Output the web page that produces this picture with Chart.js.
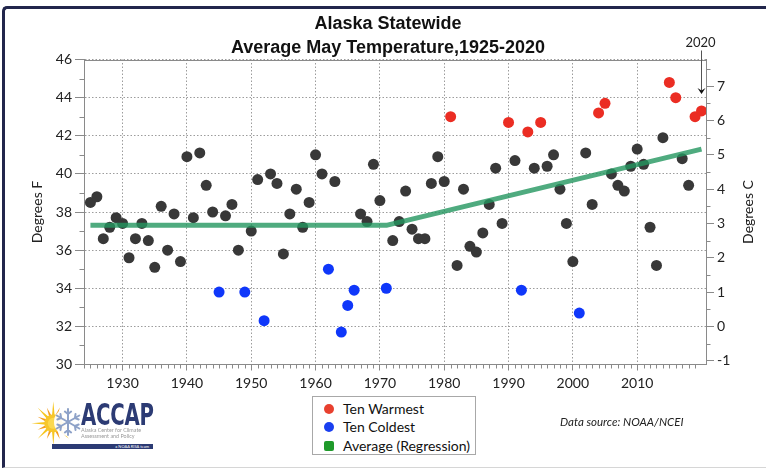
<!DOCTYPE html>
<html>
<head>
<meta charset="utf-8">
<title>Alaska Statewide Average May Temperature</title>
<script src="https://cdn.jsdelivr.net/npm/chart.js@4/dist/chart.umd.min.js"></script>
<style>
  html, body { margin: 0; padding: 0; background: #fff; }
  #wrap { position: relative; width: 766px; height: 470px; overflow: hidden; font-family: Lato, 'Open Sans', sans-serif; color: #111; }
  #frame { position: absolute; left: 2px; top: 6px; width: 900px; height: 462px; box-sizing: border-box;
           border-top: 3px solid #22264c; border-left: 3px solid #22264c; border-bottom: 1px solid #d6d6d6;
           border-top-left-radius: 5px; }
  #chart { position: absolute; left: 0; top: 0; }
  #title { position: absolute; left: 188px; top: 12px; width: 400px; text-align: center;
           font: bold 18px 'Liberation Sans', Arial, sans-serif; line-height: 23.5px; color: #111; }
  #degC { position: absolute; left: 740px; top: 205px; width: 14px; height: 14px; }
  #degC span { position: absolute; left: 50%; top: 50%; transform: translate(-50%, -50%) rotate(-90deg);
               font-size: 14px; white-space: nowrap; color: #1a1a1a; }
  #legend { position: absolute; left: 312px; top: 396px; width: 164px; height: 59px; box-sizing: border-box;
            border: 1px solid #a8a8a8; background: #fff; font-size: 14px; }
  #legend .row { position: absolute; left: 0; height: 18px; line-height: 18px; white-space: nowrap; }
  #legend .mark { position: absolute; left: 10.5px; top: 4px; width: 10px; height: 10px; border-radius: 50%; }
  #legend .mark.sq { border-radius: 2px; }
  #legend .txt { position: absolute; left: 30px; top: 0; }
  #source { position: absolute; left: 560px; top: 415px; font-size: 11.5px; font-style: italic; color: #222; white-space: nowrap; }
  #logo-art { position: absolute; left: 26px; top: 398px; }
  #logo-name { position: absolute; left: 81px; top: 397px; font: bold 30px 'Liberation Sans Narrow', 'DejaVu Sans Condensed', Arial, sans-serif;
               color: #2c3b74; transform: scaleX(0.73); transform-origin: left top; letter-spacing: -0.3px; }
  #logo-sub { position: absolute; left: 81px; top: 428px; font: 5.4px/5.6px Lato, sans-serif; color: #9a9a9a; white-space: nowrap; }
  #logo-bar { position: absolute; left: 52px; top: 444px; width: 101px; height: 5px; background: #2c3b74; }
  #logo-bar span { position: absolute; right: 4px; top: 0; font: 4px/5px Lato, sans-serif; color: #fff; white-space: nowrap; }
</style>
</head>
<body>
<div id="wrap">
  <div id="frame"></div>
  <canvas id="chart" width="766" height="470"></canvas>
  <div id="title">Alaska Statewide<br>Average May Temperature,1925-2020</div>
  <div id="degC"><span>Degrees C</span></div>

  <svg id="logo-art" width="58" height="52" viewBox="0 0 58 52">
    <g id="sun-rays"></g>
    <circle cx="27.3" cy="25.3" r="9" fill="#f7c62b"/>
    <circle cx="27.3" cy="25.3" r="5.5" fill="#fbd84e"/>
    <circle cx="42" cy="24" r="14" fill="#fff" opacity="0.92"/>
    <g id="flake" stroke="#8ea2c8" stroke-width="2" stroke-linecap="round" fill="none"></g>
  </svg>
  <div id="logo-name">ACCAP</div>
  <div id="logo-sub">Alaska Center for Climate<br>Assessment and Policy</div>
  <div id="logo-bar"><span>a NOAA RISA team</span></div>

  <div id="legend">
    <div class="row" style="top:3px"><span class="mark" style="background:#e8402f"></span><span class="txt">Ten Warmest</span></div>
    <div class="row" style="top:21px"><span class="mark" style="background:#1a3ff0"></span><span class="txt">Ten Coldest</span></div>
    <div class="row" style="top:39.5px"><span class="mark sq" style="background:#1f9a2a"></span><span class="txt">Average (Regression)</span></div>
  </div>
  <div id="source">Data source: NOAA/NCEI</div>
</div>

<script>
// May mean temperature, statewide, degrees F
const years = [
  1925, 1926, 1927, 1928, 1929, 1930, 1931, 1932, 1933, 1934,
  1935, 1936, 1937, 1938, 1939, 1940, 1941, 1942, 1943, 1944,
  1945, 1946, 1947, 1948, 1949, 1950, 1951, 1952, 1953, 1954,
  1955, 1956, 1957, 1958, 1959, 1960, 1961, 1962, 1963, 1964,
  1965, 1966, 1967, 1968, 1969, 1970, 1971, 1972, 1973, 1974,
  1975, 1976, 1977, 1978, 1979, 1980, 1981, 1982, 1983, 1984,
  1985, 1986, 1987, 1988, 1989, 1990, 1991, 1992, 1993, 1994,
  1995, 1996, 1997, 1998, 1999, 2000, 2001, 2002, 2003, 2004,
  2005, 2006, 2007, 2008, 2009, 2010, 2011, 2012, 2013, 2014,
  2015, 2016, 2017, 2018, 2019, 2020
];
const mayTempF = [
  38.5, 38.8, 36.6, 37.2, 37.7, 37.4, 35.6, 36.6, 37.4, 36.5,
  35.1, 38.3, 36.0, 37.9, 35.4, 40.9, 37.7, 41.1, 39.4, 38.0,
  33.8, 37.8, 38.4, 36.0, 33.8, 37.0, 39.7, 32.3, 40.0, 39.5,
  35.8, 37.9, 39.2, 37.2, 38.5, 41.0, 40.0, 35.0, 39.6, 31.7,
  33.1, 33.9, 37.9, 37.5, 40.5, 38.6, 34.0, 36.5, 37.5, 39.1,
  37.1, 36.6, 36.6, 39.5, 40.9, 39.6, 43.0, 35.2, 39.2, 36.2,
  35.9, 36.9, 38.4, 40.3, 37.4, 42.7, 40.7, 33.9, 42.2, 40.3,
  42.7, 40.4, 41.0, 39.2, 37.4, 35.4, 32.7, 41.1, 38.4, 43.2,
  43.7, 40.0, 39.4, 39.1, 40.4, 41.3, 40.5, 37.2, 35.2, 41.9,
  44.8, 44.0, 40.8, 39.4, 43.0, 43.3
];
const warmestYears = [1981, 1990, 1993, 1995, 2004, 2005, 2015, 2016, 2019, 2020];
const coldestYears = [1945, 1949, 1952, 1962, 1964, 1965, 1966, 1971, 1992, 2001];

// piecewise regression: flat until 1971, rising afterwards
const trendYears = [1925, 1971, 2020];
const trendTempF = [37.3, 37.3, 41.3];

const yearTicks = [1930, 1940, 1950, 1960, 1970, 1980, 1990, 2000, 2010];
const tempTicksF = [30, 32, 34, 36, 38, 40, 42, 44, 46];
const tempTicksC = [-1, 0, 1, 2, 3, 4, 5, 6, 7];

const fMin = 30, fMax = 46;
const toC = f => (f - 32) * 5 / 9;

const points = years.map((yr, i) => ({ x: yr, y: mayTempF[i] }));
const warmPts = points.filter(p => warmestYears.includes(p.x));
const coldPts = points.filter(p => coldestYears.includes(p.x));
const otherPts = points.filter(p => !warmestYears.includes(p.x) && !coldestYears.includes(p.x));
const trendPts = trendYears.map((yr, i) => ({ x: yr, y: trendTempF[i] }));

// sun rays and snowflake for the logo
(function drawLogoArt() {
  const ns = 'http://www.w3.org/2000/svg';
  const rays = document.getElementById('sun-rays');
  for (let k = 0; k < 16; k++) {
    const a = k * Math.PI / 8;
    const r1 = 7, r2 = k % 2 ? 17 : 22, w = 0.2;
    const pts = [
      [27.3 + r1 * Math.cos(a - w), 25.3 + r1 * Math.sin(a - w)],
      [27.3 + r2 * Math.cos(a), 25.3 + r2 * Math.sin(a)],
      [27.3 + r1 * Math.cos(a + w), 25.3 + r1 * Math.sin(a + w)]
    ];
    const p = document.createElementNS(ns, 'polygon');
    p.setAttribute('points', pts.map(q => q.join(',')).join(' '));
    p.setAttribute('fill', k % 2 ? '#f39c1e' : '#f6c51d');
    rays.appendChild(p);
  }
  const flake = document.getElementById('flake');
  for (let k = 0; k < 6; k++) {
    const a = k * Math.PI / 3 - Math.PI / 2;
    const cx = 42, cy = 24, r = 13;
    const ex = cx + r * Math.cos(a), ey = cy + r * Math.sin(a);
    const mx = cx + 8 * Math.cos(a), my = cy + 8 * Math.sin(a);
    const d = `M${cx},${cy} L${ex},${ey} ` +
      `M${mx},${my} L${mx + 4 * Math.cos(a - 0.9)},${my + 4 * Math.sin(a - 0.9)} ` +
      `M${mx},${my} L${mx + 4 * Math.cos(a + 0.9)},${my + 4 * Math.sin(a + 0.9)}`;
    const path = document.createElementNS(ns, 'path');
    path.setAttribute('d', d);
    flake.appendChild(path);
  }
})();

Chart.defaults.font.family = "Lato, 'Open Sans', sans-serif";
Chart.defaults.color = '#222';

const tickGrey = '#8a8a8a';
const labelFont = { size: 14 };

// minor ticks, top edge of the plot box and the 2020 pointer
const axisExtras = {
  id: 'axisExtras',
  afterDraw(chart) {
    const { ctx, chartArea: a, scales: { x, y, y2 } } = chart;
    ctx.save();
    ctx.strokeStyle = tickGrey;
    ctx.lineWidth = 1;
    ctx.beginPath();
    ctx.moveTo(a.left, Math.round(a.top) + 0.5);
    ctx.lineTo(a.right, Math.round(a.top) + 0.5);
    for (let yr = 1924; yr <= 2020; yr++) {
      if (yr % 10 === 0) continue;
      const px = Math.round(x.getPixelForValue(yr)) + 0.5;
      ctx.moveTo(px, a.bottom);
      ctx.lineTo(px, a.bottom + 4);
    }
    for (let f = fMin + 1; f < fMax; f += 2) {
      const py = Math.round(y.getPixelForValue(f)) + 0.5;
      ctx.moveTo(a.left - 4.5, py);
      ctx.lineTo(a.left, py);
    }
    for (let c = -0.5; c < toC(fMax); c += 1) {
      const py = Math.round(y2.getPixelForValue(c)) + 0.5;
      ctx.moveTo(a.right, py);
      ctx.lineTo(a.right + 4.5, py);
    }
    ctx.stroke();

    const lastYear = years[years.length - 1];
    const px = Math.round(x.getPixelForValue(lastYear)) + 0.5;
    const tipY = y.getPixelForValue(mayTempF[mayTempF.length - 1]) - 17;
    ctx.strokeStyle = '#555';
    ctx.beginPath();
    ctx.moveTo(px, a.top - 9);
    ctx.lineTo(px, tipY - 3);
    ctx.stroke();
    ctx.fillStyle = '#111';
    ctx.beginPath();
    ctx.moveTo(px - 4, tipY - 6);
    ctx.lineTo(px, tipY);
    ctx.lineTo(px + 4, tipY - 6);
    ctx.lineTo(px, tipY - 3.5);
    ctx.closePath();
    ctx.fill();
    ctx.font = "13px Lato, 'Open Sans', sans-serif";
    ctx.fillStyle = '#222';
    ctx.textAlign = 'center';
    ctx.textBaseline = 'middle';
    ctx.fillText(String(lastYear), px - 1, a.top - 16.5);
    ctx.restore();
  }
};

const dotStyle = { pointRadius: 5.5, pointHoverRadius: 5.5, pointBorderWidth: 0, order: 1 };

new Chart(document.getElementById('chart'), {
  type: 'scatter',
  data: {
    datasets: [
      {
        label: 'Average (Regression)', data: trendPts, showLine: true,
        borderColor: 'rgba(35, 150, 95, 0.8)', borderWidth: 5,
        borderJoinStyle: 'round', borderCapStyle: 'butt',
        pointRadius: 0, order: 0
      },
      { label: 'Ten Warmest', data: warmPts, backgroundColor: '#eb2d23', ...dotStyle },
      { label: 'Ten Coldest', data: coldPts, backgroundColor: '#0f37fa', ...dotStyle },
      { label: 'Other years', data: otherPts, backgroundColor: '#383838', ...dotStyle }
    ]
  },
  options: {
    responsive: false,
    devicePixelRatio: 1,
    animation: false,
    layout: { padding: { top: 59.5, left: 0, right: 0, bottom: 0 } },
    plugins: { legend: { display: false }, tooltip: { enabled: false } },
    scales: {
      x: {
        type: 'linear', min: 1924, max: 2020.7,
        afterBuildTicks: s => { s.ticks = yearTicks.map(v => ({ value: v })); },
        afterFit: s => { s.height = 105.5; },
        grid: { color: '#9c9c9c', lineWidth: 1, tickLength: 6, tickColor: tickGrey },
        border: { color: tickGrey, dash: [1.5, 2] },
        ticks: { callback: v => String(v), padding: 5, font: labelFont, maxRotation: 0, autoSkip: false }
      },
      y: {
        position: 'left', min: fMin, max: fMax,
        afterBuildTicks: s => { s.ticks = tempTicksF.map(v => ({ value: v })); },
        afterFit: s => { s.width = 84; },
        grid: { color: '#9c9c9c', lineWidth: 1, tickLength: 9, tickColor: tickGrey },
        border: { color: tickGrey, dash: [1.5, 2] },
        ticks: { callback: v => String(v), padding: 3, font: labelFont },
        title: { display: true, text: 'Degrees F', font: { size: 14 }, color: '#222', padding: { top: 28.6, bottom: 0 } }
      },
      y2: {
        position: 'right', min: toC(fMin), max: toC(fMax),
        afterBuildTicks: s => { s.ticks = tempTicksC.map(v => ({ value: v })); },
        afterFit: s => { s.width = 60; },
        grid: { drawOnChartArea: false, tickLength: 8, tickColor: tickGrey },
        border: { color: tickGrey },
        ticks: { callback: v => String(v), padding: 3, font: labelFont }
      }
    }
  },
  plugins: [axisExtras]
});
</script>
</body>
</html>
